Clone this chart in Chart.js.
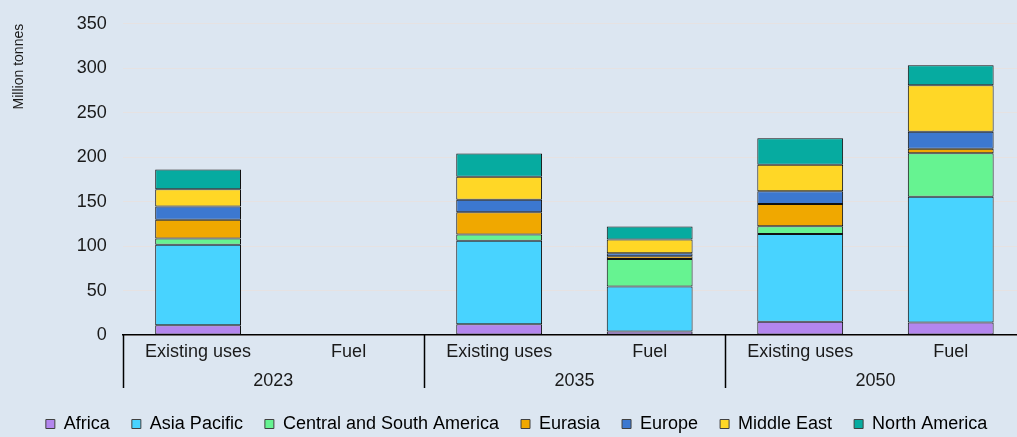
<!DOCTYPE html>
<html>
<head>
<meta charset="utf-8">
<script src="https://cdn.jsdelivr.net/npm/chart.js@4/dist/chart.umd.min.js"></script>
<style>
  html, body { margin: 0; padding: 0; overflow: hidden; background: #dce6f1; }
  #wrap { width: 1026px; height: 446px; margin-top: -3px; }
</style>
</head>
<body>
<div id="wrap"><canvas id="chart"></canvas></div>
<script>
const categories = ['Existing uses', 'Fuel', 'Existing uses', 'Fuel', 'Existing uses', 'Fuel'];
const years = ['2023', '2035', '2050'];
const regions = ['Africa', 'Asia Pacific', 'Central and South America', 'Eurasia', 'Europe', 'Middle East', 'North America'];

const africa       = [11,   0.2, 12, 4,    15,   14];
const asiaPacific  = [90.5, 0.5, 94, 50.5, 98.7, 141.5];
const centralSouth = [7,    0,   7,  31,   8.6,  49];
const eurasia      = [21,   0,   25, 3,    25,   5];
const europe       = [15,   0,   14, 3.5,  14.3, 19];
const middleEast   = [19.5, 0,   26, 15.5, 30,   52.5];
const northAmerica = [22,   0,   26, 14.5, 29.6, 22.5];

const yTicks = [0, 50, 100, 150, 200, 250, 300, 350];

const colors = ['#b386ee', '#48d3ff', '#66f391', '#f0a800', '#3c78d0', '#ffd726', '#06aba0'];
const values = [africa, asiaPacific, centralSouth, eurasia, europe, middleEast, northAmerica];

const textColor = '#1a1a1a';
const gapBelowYears = 5;
Chart.defaults.font.family = 'Arial, "Liberation Sans", sans-serif';
Chart.defaults.color = textColor;

// group dividers under the x axis
const groupLines = {
  id: 'groupLines',
  afterDraw(chart) {
    const x = chart.scales.x;
    const x2 = chart.scales.x2;
    const half = (x.getPixelForValue(1) - x.getPixelForValue(0)) / 2;
    const ctx = chart.ctx;
    ctx.save();
    ctx.strokeStyle = '#000';
    ctx.lineWidth = 1.5;
    for (let i = 0; i <= categories.length; i += 2) {
      const px = Math.round(x.getPixelForValue(i) - half) + 0.5;
      ctx.beginPath();
      ctx.moveTo(px, chart.chartArea.bottom);
      ctx.lineTo(px, x2.bottom - gapBelowYears);
      ctx.stroke();
    }
    ctx.restore();
  }
};

new Chart(document.getElementById('chart'), {
  type: 'bar',
  data: {
    labels: categories,
    datasets: regions.map((r, i) => ({
      label: r,
      data: values[i],
      backgroundColor: colors[i],
      borderColor: '#111',
      borderWidth: 1,
      borderSkipped: false,
      barPercentage: 0.57,
      categoryPercentage: 1
    }))
  },
  options: {
    responsive: true,
    maintainAspectRatio: false,
    animation: false,
    layout: { padding: { top: 9, right: 0, left: 7, bottom: 0 } },
    plugins: {
      legend: {
        position: 'bottom',
        labels: {
          boxWidth: 9,
          boxHeight: 9,
          padding: 22,
          font: { size: 18 },
          color: textColor,
          generateLabels(chart) {
            return chart.data.datasets.map((ds, i) => ({
              text: ds.label,
              fillStyle: ds.backgroundColor,
              strokeStyle: '#404040',
              lineWidth: 1,
              datasetIndex: i
            }));
          }
        }
      },
      tooltip: { enabled: false }
    },
    scales: {
      x: {
        stacked: true,
        grid: { display: false, drawTicks: false },
        border: { display: true, color: '#000', width: 1.5 },
        ticks: { font: { size: 18, lineHeight: 1 }, padding: 8, color: textColor, maxRotation: 0, autoSkip: false }
      },
      x2: {
        type: 'category',
        labels: years,
        position: 'bottom',
        offset: true,
        grid: { display: false, drawTicks: false },
        border: { display: false },
        ticks: { font: { size: 18, lineHeight: 1 }, padding: 3, color: textColor }
      },
      y: {
        stacked: true,
        min: 0,
        max: 350,
        afterBuildTicks(scale) { scale.ticks = yTicks.map(v => ({ value: v })); },
        grid: { color: '#e6e2e2', lineWidth: 1, drawTicks: false },
        border: { display: false },
        ticks: { font: { size: 18 }, padding: 16, color: textColor },
        title: { display: true, text: 'Million tonnes', align: 'end', font: { size: 14 }, color: textColor, padding: { top: 4, bottom: 33 } }
      }
    }
  },
  plugins: [groupLines]
});
</script>
</body>
</html>
